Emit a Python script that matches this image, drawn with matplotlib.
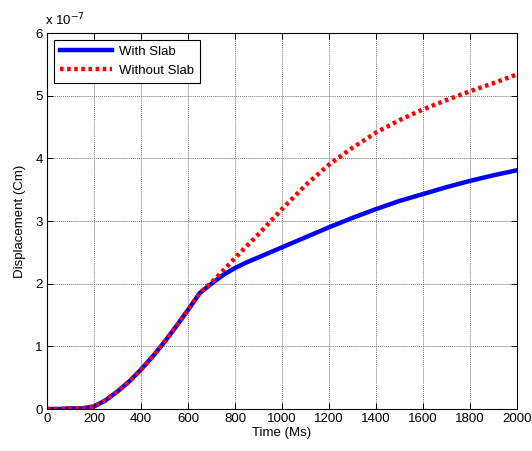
import matplotlib
matplotlib.use('Agg')
import matplotlib.pyplot as plt
import numpy as np

plt.rcParams['font.family'] = ['Liberation Sans', 'DejaVu Sans']

# time (Ms) and displacement (x 1e-7 Cm)
time_ms = [0, 50, 100, 150, 200, 250, 300, 350, 400, 450, 500, 550, 600, 650,
           700, 750, 800, 850, 900, 950, 1000, 1100, 1200, 1300, 1400, 1500,
           1600, 1700, 1800, 1900, 2000]
with_slab = [0, 0, 0.01, 0.01, 0.04, 0.14, 0.28, 0.44, 0.63, 0.84, 1.07, 1.32,
             1.58, 1.85, 2.0, 2.14, 2.25, 2.34, 2.42, 2.5, 2.58, 2.74, 2.9,
             3.05, 3.19, 3.32, 3.43, 3.54, 3.64, 3.73, 3.81]
without_slab = [0, 0, 0.01, 0.01, 0.04, 0.14, 0.28, 0.44, 0.63, 0.84, 1.07,
                1.32, 1.58, 1.85, 2.02, 2.21, 2.41, 2.6, 2.79, 2.99, 3.19,
                3.57, 3.9, 4.17, 4.41, 4.61, 4.78, 4.93, 5.07, 5.2, 5.34]

fs = 9.5

fig = plt.figure(figsize=(5.32, 4.51), dpi=100)
ax = fig.add_axes([47/532, 42/451, 470/532, 376/451])

ax.plot(time_ms, with_slab, color='#0000ff', lw=3.2, label='With Slab')
ax.plot(time_ms, without_slab, color='#ff0000', lw=3.2, ls=(0, (0.8, 0.8)),
        label='Without Slab')

ax.set_xlim(0, 2000)
ax.set_ylim(0, 6)
ax.set_xticks(np.arange(0, 2001, 200))
ax.set_yticks(np.arange(0, 7, 1))
ax.grid(True, color='0.45', ls=(0, (1, 1)), lw=0.7)
ax.tick_params(direction='in', top=True, right=True, length=4, labelsize=fs,
               width=0.7, pad=3)
for s in ax.spines.values():
    s.set_linewidth(0.8)

ax.set_xlabel('Time (Ms)', fontsize=fs, labelpad=1)
ax.set_ylabel('Displacement (Cm)', fontsize=fs, labelpad=7)
ax.text(-0.005, 1.012, 'x 10$^{-7}$', transform=ax.transAxes, fontsize=fs,
        ha='left', va='bottom')

leg = ax.legend(loc='upper left', fontsize=fs, fancybox=False, framealpha=1,
                edgecolor='black', borderaxespad=0.5, handlelength=4.0,
                borderpad=0.45, labelspacing=0.5, handletextpad=0.5)
leg.get_frame().set_linewidth(0.8)

fig.savefig('out.png', dpi=100)
